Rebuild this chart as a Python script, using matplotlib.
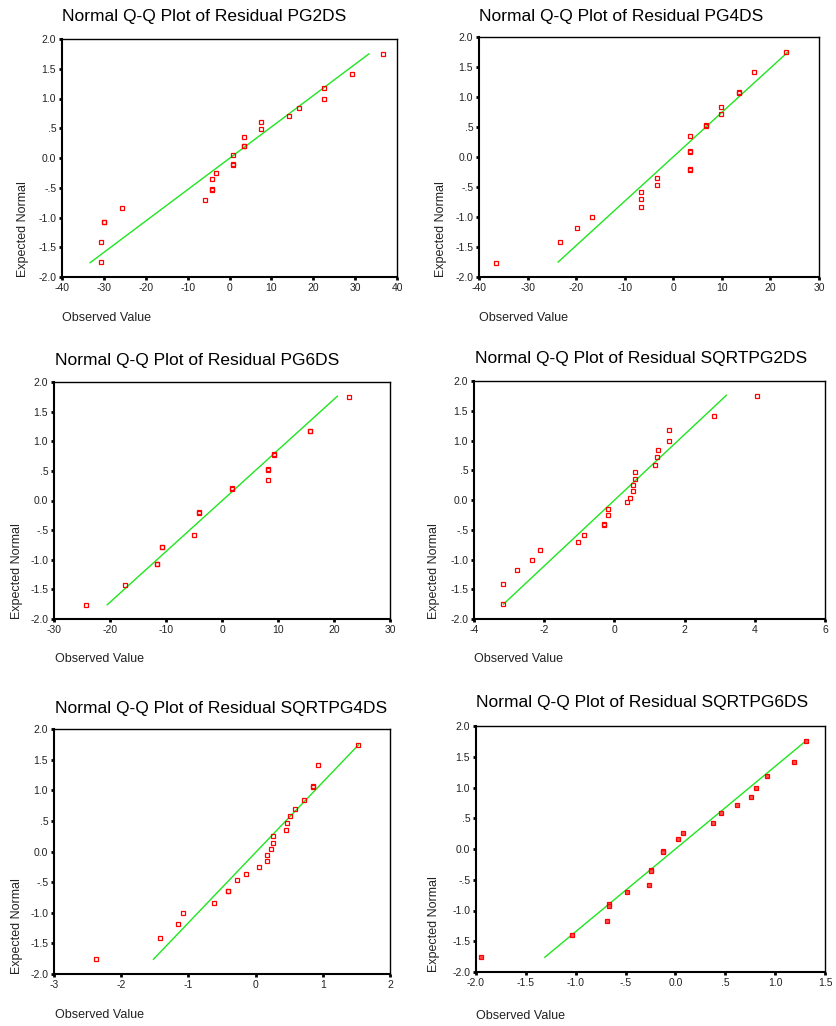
import matplotlib
matplotlib.use("Agg")
import matplotlib.pyplot as plt

plt.rcParams['font.family'] = ['Liberation Sans', 'DejaVu Sans']

W, H = 836, 1026

titles = ["Normal Q-Q Plot of Residual PG2DS", "Normal Q-Q Plot of Residual PG4DS",
          "Normal Q-Q Plot of Residual PG6DS", "Normal Q-Q Plot of Residual SQRTPG2DS",
          "Normal Q-Q Plot of Residual SQRTPG4DS", "Normal Q-Q Plot of Residual SQRTPG6DS"]
xlabel_text = "Observed Value"
ylabel_text = "Expected Normal"

y_ticks = [-2.0, -1.5, -1.0, -0.5, 0.0, 0.5, 1.0, 1.5, 2.0]
y_ticklabels = ["-2.0", "-1.5", "-1.0", "-.5", "0.0", ".5", "1.0", "1.5", "2.0"]

# Panel 1: PG2DS
pg2_obs = [36.6, 29.2, 22.5, 22.5, 16.7, 14.2, 7.6, 7.6, 3.4, 3.4, 3.4, 0.9, 0.9, 0.9,
           -3.2, -4.2, -4.2, -4.2, -5.8, -25.7, -29.9, -29.9, -30.8, -30.8]
pg2_exp = [1.75, 1.42, 1.18, 1.00, 0.84, 0.71, 0.60, 0.48, 0.36, 0.21, 0.20, 0.05, -0.10, -0.11,
           -0.25, -0.35, -0.52, -0.53, -0.70, -0.84, -1.07, -1.08, -1.41, -1.75]
pg2_line_x = [-33.3, 33.3]
pg2_line_y = [-1.76, 1.75]
pg2_xticks = [-40, -30, -20, -10, 0, 10, 20, 30, 40]

# Panel 2: PG4DS
pg4_obs = [23.3, 16.7, 13.5, 13.5, 9.9, 9.9, 6.7, 6.7, 3.45, 3.45, 3.45, 3.45, 3.45,
           -3.3, -3.3, -6.6, -6.6, -6.6, -16.7, -19.9, -23.35, -36.6]
pg4_exp = [1.75, 1.42, 1.08, 1.07, 0.84, 0.71, 0.53, 0.52, 0.35, 0.10, 0.09, -0.20, -0.21,
           -0.35, -0.47, -0.59, -0.70, -0.84, -1.00, -1.18, -1.41, -1.76]
pg4_line_x = [-23.7, 23.6]
pg4_line_y = [-1.75, 1.75]
pg4_xticks = [-40, -30, -20, -10, 0, 10, 20, 30]

# Panel 3: PG6DS
pg6_obs = [22.6, 15.8, 15.8, 9.3, 9.3, 8.3, 8.3, 8.3, 1.8, 1.8, -4.1, -4.1, -5.0,
           -10.7, -10.7, -11.6, -11.6, -17.4, -24.2]
pg6_exp = [1.75, 1.18, 1.17, 0.78, 0.77, 0.53, 0.52, 0.35, 0.21, 0.20, -0.20, -0.21, -0.59,
           -0.78, -0.79, -1.07, -1.08, -1.42, -1.76]
pg6_line_x = [-20.5, 20.6]
pg6_line_y = [-1.76, 1.76]
pg6_xticks = [-30, -20, -10, 0, 10, 20, 30]

# Panel 4: SQRTPG2DS
sq2_obs = [4.07, 2.83, 1.56, 1.56, 1.24, 1.22, 1.17, 0.60, 0.60, 0.54, 0.54, 0.45, 0.36,
           -0.19, -0.19, -0.31, -0.31, -0.86, -1.04, -2.13, -2.35, -2.77, -3.16, -3.16]
sq2_exp = [1.75, 1.41, 1.18, 1.00, 0.84, 0.72, 0.59, 0.47, 0.36, 0.26, 0.15, 0.04, -0.04,
           -0.15, -0.25, -0.41, -0.42, -0.59, -0.71, -0.84, -1.00, -1.18, -1.41, -1.75]
sq2_line_x = [-3.16, 3.19]
sq2_line_y = [-1.75, 1.76]
sq2_xticks = [-4, -2, 0, 2, 4, 6]

# Panel 5: SQRTPG4DS
sq4_obs = [1.53, 0.93, 0.85, 0.85, 0.72, 0.59, 0.51, 0.47, 0.45, 0.26, 0.26, 0.23, 0.17, 0.17,
           0.05, -0.15, -0.27, -0.41, -0.41, -0.62, -1.08, -1.16, -1.43, -2.37]
sq4_exp = [1.74, 1.41, 1.07, 1.06, 0.84, 0.70, 0.58, 0.47, 0.35, 0.25, 0.14, 0.04, -0.05, -0.15,
           -0.25, -0.36, -0.47, -0.64, -0.65, -0.84, -1.00, -1.18, -1.41, -1.76]
sq4_line_x = [-1.52, 1.53]
sq4_line_y = [-1.76, 1.74]
sq4_xticks = [-3, -2, -1, 0, 1, 2]

# Panel 6: SQRTPG6DS
sq6_obs = [1.31, 1.19, 0.92, 0.81, 0.76, 0.62, 0.46, 0.38, 0.08, 0.03, -0.125, -0.125,
           -0.24, -0.24, -0.27, -0.49, -0.665, -0.665, -0.69, -1.04, -1.95]
sq6_exp = [1.76, 1.41, 1.18, 1.00, 0.84, 0.71, 0.58, 0.42, 0.26, 0.16, -0.03, -0.05,
           -0.34, -0.36, -0.58, -0.70, -0.90, -0.92, -1.17, -1.40, -1.76]
sq6_line_x = [-1.31, 1.31]
sq6_line_y = [-1.76, 1.76]
sq6_xticks = [-2.0, -1.5, -1.0, -0.5, 0.0, 0.5, 1.0, 1.5]
sq6_xticklabels = ["-2.0", "-1.5", "-1.0", "-.5", "0.0", ".5", "1.0", "1.5"]

panels = [
    dict(obs=pg2_obs, exp=pg2_exp, lx=pg2_line_x, ly=pg2_line_y, xt=pg2_xticks, xtl=None,
         rect=(62, 39, 397, 277), title=(62, 17), xlab=(62, 318), ylab=23, ms=3.5, fill=False),
    dict(obs=pg4_obs, exp=pg4_exp, lx=pg4_line_x, ly=pg4_line_y, xt=pg4_xticks, xtl=None,
         rect=(479, 37, 819, 277), title=(479, 16), xlab=(479, 318), ylab=441, ms=3.5, fill=False),
    dict(obs=pg6_obs, exp=pg6_exp, lx=pg6_line_x, ly=pg6_line_y, xt=pg6_xticks, xtl=None,
         rect=(54, 382, 390, 619), title=(55, 361), xlab=(55, 659), ylab=17, ms=3.5, fill=False),
    dict(obs=sq2_obs, exp=sq2_exp, lx=sq2_line_x, ly=sq2_line_y, xt=sq2_xticks, xtl=None,
         rect=(474, 381, 825, 619), title=(475, 359), xlab=(474, 659), ylab=434, ms=3.5, fill=False),
    dict(obs=sq4_obs, exp=sq4_exp, lx=sq4_line_x, ly=sq4_line_y, xt=sq4_xticks, xtl=None,
         rect=(54, 729, 390, 974), title=(55, 708), xlab=(55, 1015), ylab=17, ms=3.5, fill=False),
    dict(obs=sq6_obs, exp=sq6_exp, lx=sq6_line_x, ly=sq6_line_y, xt=sq6_xticks, xtl=sq6_xticklabels,
         rect=(476, 726, 825, 972), title=(476, 702), xlab=(476, 1016), ylab=434, ms=2.3, fill=True),
]

fig = plt.figure(figsize=(W / 100, H / 100), dpi=100)

for p, title in zip(panels, titles):
    x0, y0, x1, y1 = p['rect']
    ax = fig.add_axes([x0 / W, 1 - y1 / H, (x1 - x0) / W, (y1 - y0) / H])
    ax.plot(p['lx'], p['ly'], color='#1ee61e', lw=1.0, zorder=2)
    ax.plot(p['obs'], p['exp'], linestyle='none', marker='s', ms=p['ms'], mew=0.9,
            mec='#ff0000', mfc=('#ff5050' if p['fill'] else 'none'), zorder=3)
    ax.set_xlim(p['xt'][0], p['xt'][-1])
    ax.set_ylim(-2.0, 2.0)
    ax.set_xticks(p['xt'])
    if p['xtl'] is not None:
        ax.set_xticklabels(p['xtl'])
    else:
        ax.set_xticklabels([str(v) for v in p['xt']])
    ax.set_yticks(y_ticks)
    ax.set_yticklabels(y_ticklabels)
    ax.tick_params(axis='both', direction='out', length=2.2, width=2.0, labelsize=7.5,
                   colors='black', labelcolor='#222222', pad=2)
    for name, s in ax.spines.items():
        s.set_color('black')
        s.set_linewidth(1.5 if name in ('left', 'bottom') else 1.0)
    fig.text(p['title'][0] / W, 1 - p['title'][1] / H, title, fontsize=12.5,
             ha='left', va='center', color='black')
    fig.text(p['xlab'][0] / W, 1 - p['xlab'][1] / H, xlabel_text, fontsize=9,
             ha='left', va='center', color='#222222')
    fig.text(p['ylab'] / W, 1 - y1 / H, ylabel_text, fontsize=9, rotation=90,
             ha='center', va='bottom', color='#222222')

fig.savefig('out.png', dpi=100)
